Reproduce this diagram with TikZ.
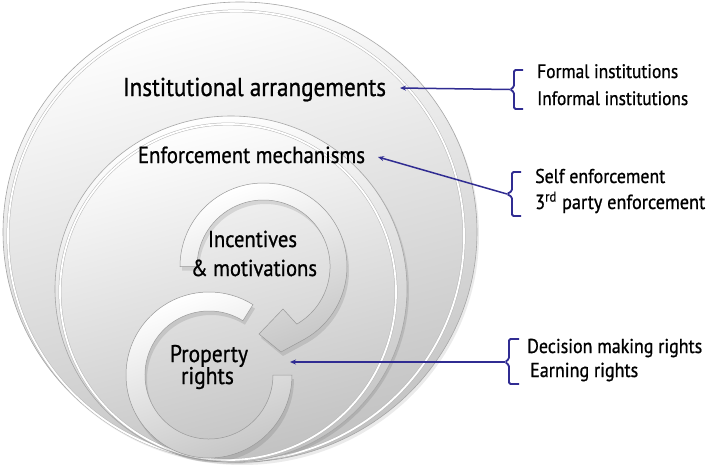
\documentclass[tikz,border=0pt]{standalone}
\usepackage{fontspec}
\setmainfont{PT Sans}
\usetikzlibrary{arrows.meta,calc}
\definecolor{ablue}{RGB}{48,44,146}
\newcommand\fitw[2]{\resizebox{#1pt}{!}{\scalebox{1}[1.12]{#2}}}
\begin{document}
\begin{tikzpicture}[x=1pt,y=-1pt,
  disc/.style={draw=black!35, line width=0.6, top color=white, bottom color=black!24, shading angle=15},
  rim/.style={draw=white, line width=1.8},
  rimedge/.style={draw=black!28, line width=2.8},
  ringarrow/.style={draw=black!40, line width=0.5, top color=white, bottom color=black!22, shading angle=20},
  label/.style={inner sep=0pt, text=black, font=\addfontfeatures{FakeBold=0.9}},
  conn/.style={draw=ablue, line width=1.5, -{Stealth[length=6pt,width=5pt]}},
  bracestyle/.style={draw=ablue, line width=1.8, rounded corners=1.5pt}
]
\useasboundingbox (0,0) rectangle (707,464);
\fill[white] (0,0) rectangle (707,464);

% outer disc
\fill[black, opacity=0.08] (242,235) ellipse [x radius=237, y radius=230];
\shade[disc] (240,232) ellipse [x radius=237, y radius=230];
\draw[rimedge] (236,236) ellipse [x radius=228, y radius=225];
\draw[rim] (236,236) ellipse [x radius=228, y radius=225];

% middle disc
\fill[black, opacity=0.10] (233,291) ellipse [x radius=176, y radius=173];
\shade[disc] (231,289) ellipse [x radius=176, y radius=173];
\draw[rimedge] (228,292) ellipse [x radius=168, y radius=168];
\draw[rim] (228,292) ellipse [x radius=168, y radius=168];

% lower ring (around Property rights)
\fill[black, opacity=0.10] (294,379) arc[start angle=0, end angle=302, radius=83]
  -- ($(211,379)+(302:64)$) arc[start angle=302, end angle=0, radius=64] -- cycle;
\shade[ringarrow] (292,375) arc[start angle=0, end angle=302, radius=83]
  -- ($(209,375)+(302:64)$) arc[start angle=302, end angle=0, radius=64] -- cycle;

% upper ring arrow
\fill[black, opacity=0.10] (182,270.5) arc[start angle=180, end angle=420, radius=83.5]
  -- (283,356) -- (261,338) -- (285,313) -- (298.8,328.1)
  arc[start angle=420, end angle=180, radius=66.5] -- cycle;
\shade[ringarrow] (180,266.5) arc[start angle=180, end angle=420, radius=83.5]
  -- (281,352) -- (259,334) -- (283,309) -- (296.8,324.1)
  arc[start angle=420, end angle=180, radius=66.5] -- cycle;

% texts inside
\node[label, anchor=base] (ia) at (254.5,96) {\fitw{263}{Institutional arrangements}};
\node[label, anchor=base] (em) at (251.5,163) {\fitw{227}{Enforcement mechanisms}};
\node[label, anchor=base] (inc) at (252.5,247) {\fitw{89}{Incentives}};
\node[label, anchor=base] (mot) at (254,276) {\fitw{126}{\& motivations}};
\node[label, anchor=base] (prop) at (209,362) {\fitw{78}{Property}};
\node[label, anchor=base] (rig) at (207.5,384) {\fitw{78}{\ooalign{\hphantom{Property}\cr\hfil rights\hfil\cr}}};

% right texts
\node[label, anchor=base west] (fi) at (537,78) {\fitw{141}{Formal institutions}};
\node[label, anchor=base west] (ii) at (537,105) {\fitw{151}{Informal institutions}};
\node[label, anchor=base west] (se) at (535,183) {\fitw{130}{Self enforcement}};
\node[label, anchor=base west] (tp) at (535,209) {\fitw{170}{3\textsuperscript{rd} party enforcement}};
\node[label, anchor=base west] (dm) at (527,353) {\fitw{175}{Decision making rights}};
\node[label, anchor=base west] (er) at (530,377) {\fitw{108}{Earning rights}};

% braces
\coordinate (b1) at (510,89.5);
\coordinate (b2) at (507,194);
\coordinate (b3) at (505,362);
\draw[bracestyle] (523,70) -- (514,70) -- (514,87) -- (b1) -- (514,92) -- (514,109) -- (523,109);
\draw[bracestyle] (521,172) -- (512,172) -- (512,191) -- (b2) -- (512,197) -- (512,216) -- (521,216);
\draw[bracestyle] (519,339) -- (509,339) -- (509,359) -- (b3) -- (509,365) -- (509,384) -- (519,384);

% connectors
\coordinate (t1) at (400,88);
\coordinate (t2) at (378,157);
\coordinate (t3) at (290,362);
\draw[conn] (b1) -- (t1);
\draw[conn] (b2) -- (t2);
\draw[conn] (b3) -- (t3);
\end{tikzpicture}
\end{document}
